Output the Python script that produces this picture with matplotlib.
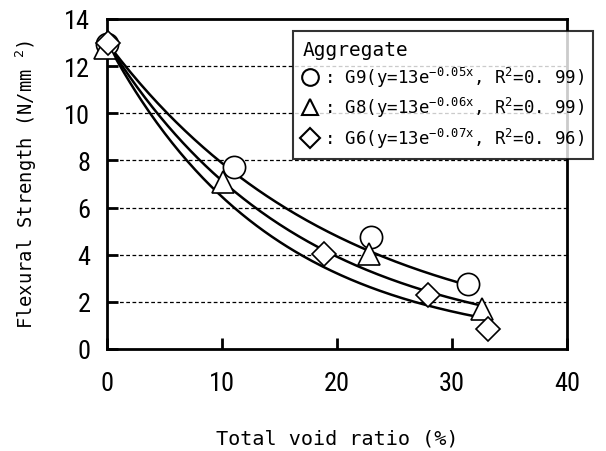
import numpy as np
import matplotlib
matplotlib.use('Agg')
import matplotlib.pyplot as plt
from matplotlib import font_manager as fm
from matplotlib.lines import Line2D

# data
g9_x = [0.0, 11.0, 23.0, 31.4]
g9_y = [12.95, 7.7, 4.75, 2.75]
g8_x = [-0.2, 10.1, 22.8, 32.6]
g8_y = [12.75, 7.1, 4.05, 1.7]
g6_x = [0.1, 18.9, 27.9, 33.1]
g6_y = [13.0, 4.05, 2.3, 0.85]

# fitted curves y = a*exp(-k*x) as given in the legend
fit_a = [13, 13, 13]
fit_k = [0.05, 0.06, 0.07]
fit_xmax = [31.4, 32.8, 33.2]
names = ['G9', 'G8', 'G6']
r2 = ['0. 99', '0. 99', '0. 96']
k_txt = ['0. 05x', '0. 06x', '0. 07x']
markers = ['o', '^', 'D']

xticks = [0, 10, 20, 30, 40]
yticks = [0, 2, 4, 6, 8, 10, 12, 14]

# pick a narrow font for the tick numbers if one is installed
installed = {f.name for f in fm.fontManager.ttflist}
narrow = [n for n in ['Liberation Sans Narrow', 'DejaVu Sans Condensed',
                      'Roboto Condensed', 'Open Sans Condensed'] if n in installed]
if narrow:
    tick_font, tick_size = narrow[0], 19
else:
    tick_font, tick_size = 'Liberation Sans', 16

plt.rcParams['mathtext.fontset'] = 'custom'
plt.rcParams['mathtext.rm'] = 'DejaVu Sans Mono'
plt.rcParams['mathtext.it'] = 'DejaVu Sans Mono'

fig = plt.figure(figsize=(6.06, 4.52), dpi=100)
ax = fig.add_axes([0.1766, 0.2257, 0.7590, 0.7301])

# fit lines
for a, k, xm in zip(fit_a, fit_k, fit_xmax):
    xx = np.linspace(0, xm, 200)
    ax.plot(xx, a * np.exp(-k * xx), color='black', lw=1.8, zorder=2)

# points
for xs, ys, m in zip([g9_x, g8_x, g6_x], [g9_y, g8_y, g6_y], markers):
    ms = 16 if m != 'D' else 12
    ax.plot(xs, ys, linestyle='none', marker=m, markersize=ms,
            markerfacecolor='white', markeredgecolor='black',
            markeredgewidth=1.2, zorder=3, clip_on=False)

ax.set_xlim(0, 40)
ax.set_ylim(0, 14)
ax.set_xticks(xticks)
ax.set_yticks(yticks)
ax.set_xticklabels([str(t) for t in xticks], family=tick_font, fontsize=tick_size)
ax.set_yticklabels([str(t) for t in yticks], family=tick_font, fontsize=tick_size)
ax.tick_params(axis='x', direction='in', length=8, width=2, pad=16)
ax.tick_params(axis='y', direction='in', length=8, width=2, pad=12)

for y in yticks[1:-1]:
    ax.axhline(y, color='black', lw=0.9, ls=(0, (3, 2)), zorder=1)

for s in ax.spines.values():
    s.set_linewidth(2.0)

ax.set_xlabel('Total void ratio (%)', family='DejaVu Sans Mono',
              fontsize=14.5, labelpad=24)
ax.set_ylabel('Flexural Strength (N/mm $^2$)', family='DejaVu Sans Mono',
              fontsize=13.5, labelpad=18)

handles = [Line2D([], [], linestyle='none', marker=m, markersize=12 if m != 'D' else 10,
                  markerfacecolor='white', markeredgecolor='black',
                  markeredgewidth=1.5) for m in markers]
labels = [': %s(y=13e$^{-%s}$, R$^2$=%s)' % (n, k, r) for n, k, r in zip(names, k_txt, r2)]
leg = ax.legend(handles, labels, title='Aggregate', loc='upper left',
                bbox_to_anchor=(0.405, 0.965), alignment='left',
                prop={'family': 'DejaVu Sans Mono', 'size': 12.5},
                title_fontproperties={'family': 'DejaVu Sans Mono', 'size': 14},
                frameon=True, fancybox=False, edgecolor='black',
                handlelength=0.8, handletextpad=0.4, labelspacing=0.35,
                borderpad=0.55, borderaxespad=0)
leg.get_frame().set_linewidth(1.5)
leg.set_zorder(5)

fig.savefig('out.png', dpi=100)
